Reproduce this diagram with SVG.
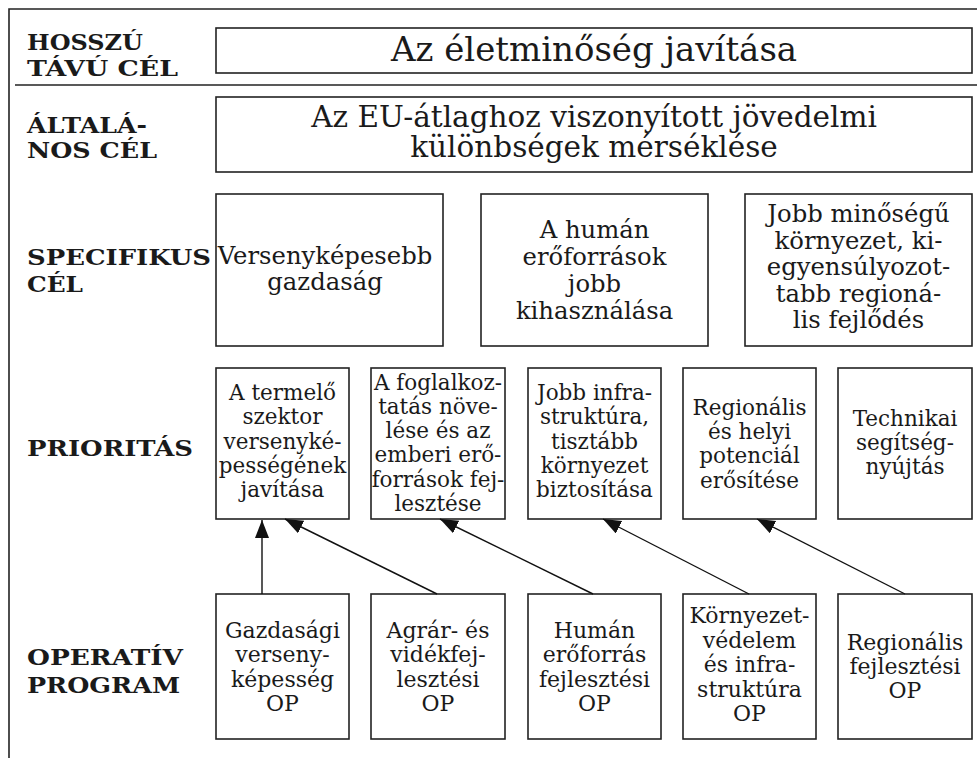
<svg xmlns="http://www.w3.org/2000/svg" width="977" height="758" viewBox="0 0 977 758">
<style>
.box{fill:#fff;stroke:#222;stroke-width:1.6}
.t{font-family:"DejaVu Serif","Liberation Serif",serif;fill:#1a1a1a;text-anchor:middle}
.big{font-size:34px}
.gen{font-size:29.5px}
.spec{font-size:24.3px}
.pri{font-size:21.5px}
.op{font-size:22px}
.lab{font-family:"DejaVu Serif","Liberation Serif",serif;font-weight:bold;font-size:22px;fill:#1a1a1a}
.frame{stroke:#222;stroke-width:1.6;fill:none}
.con{stroke:#111;stroke-width:1.4;fill:none}
</style>
<defs>
<marker id="ah" markerUnits="userSpaceOnUse" markerWidth="20" markerHeight="16" refX="18" refY="7" orient="auto">
<path d="M0,0 L18,7 L0,14 z" fill="#111"/>
</marker>
</defs>
<rect width="977" height="758" fill="#fff"/>
<g id="frame">
<path class="frame" d="M9,758 V9 H977"/>
<path class="frame" d="M15,85 H977"/>
</g>
<g id="labels">
<text class="lab" x="27" y="50" textLength="116" lengthAdjust="spacingAndGlyphs">HOSSZÚ</text>
<text class="lab" x="27" y="76" textLength="151" lengthAdjust="spacingAndGlyphs">TÁVÚ CÉL</text>
<text class="lab" x="27" y="133" textLength="120" lengthAdjust="spacingAndGlyphs">ÁLTALÁ-</text>
<text class="lab" x="27" y="158" textLength="130" lengthAdjust="spacingAndGlyphs">NOS CÉL</text>
<text class="lab" x="27" y="265" textLength="184" lengthAdjust="spacingAndGlyphs">SPECIFIKUS</text>
<text class="lab" x="27" y="292" textLength="56" lengthAdjust="spacingAndGlyphs">CÉL</text>
<text class="lab" x="27" y="456" textLength="166" lengthAdjust="spacingAndGlyphs">PRIORITÁS</text>
<text class="lab" x="27" y="665" textLength="156" lengthAdjust="spacingAndGlyphs">OPERATÍV</text>
<text class="lab" x="27" y="693" textLength="153" lengthAdjust="spacingAndGlyphs">PROGRAM</text>
</g>
<g id="cel-hosszu">
<rect class="box" x="216" y="28" width="756" height="45"/>
<text class="t big" x="594" y="61">Az életminőség javítása</text>
</g>
<g id="cel-altalanos">
<rect class="box" x="216" y="97" width="756" height="75"/>
<text class="t gen" x="594" y="127">Az EU-átlaghoz viszonyított jövedelmi</text>
<text class="t gen" x="594" y="157">különbségek mérséklése</text>
</g>
<g id="spec1">
<rect class="box" x="216" y="194" width="227" height="152"/>
<text class="t spec" x="325" y="264">Versenyképesebb</text>
<text class="t spec" x="325" y="290">gazdaság</text>
</g>
<g id="spec2">
<rect class="box" x="481" y="194" width="227" height="152"/>
<text class="t spec" x="594.5" y="238">A humán</text>
<text class="t spec" x="594.5" y="265">erőforrások</text>
<text class="t spec" x="594.5" y="292">jobb</text>
<text class="t spec" x="594.5" y="319">kihasználása</text>
</g>
<g id="spec3">
<rect class="box" x="745" y="194" width="227" height="152"/>
<text class="t spec" x="858.5" y="222">Jobb minőségű</text>
<text class="t spec" x="858.5" y="248.5">környezet, ki-</text>
<text class="t spec" x="858.5" y="275">egyensúlyozot-</text>
<text class="t spec" x="858.5" y="301.5">tabb regioná-</text>
<text class="t spec" x="858.5" y="328">lis fejlődés</text>
</g>
<g id="pri1">
<rect class="box" x="216" y="368" width="133" height="151"/>
<text class="t pri" x="282.5" y="400">A termelő</text>
<text class="t pri" x="282.5" y="424">szektor</text>
<text class="t pri" x="282.5" y="449">versenyké-</text>
<text class="t pri" x="282.5" y="473">pességének</text>
<text class="t pri" x="282.5" y="497">javítása</text>
</g>
<g id="pri2">
<rect class="box" x="371" y="368" width="134" height="151"/>
<text class="t pri" x="438" y="390">A foglalkoz-</text>
<text class="t pri" x="438" y="414">tatás növe-</text>
<text class="t pri" x="438" y="438">lése és az</text>
<text class="t pri" x="438" y="462">emberi erő-</text>
<text class="t pri" x="438" y="487">források fej-</text>
<text class="t pri" x="438" y="511">lesztése</text>
</g>
<g id="pri3">
<rect class="box" x="528" y="368" width="133" height="151"/>
<text class="t pri" x="594.5" y="400">Jobb infra-</text>
<text class="t pri" x="594.5" y="424">struktúra,</text>
<text class="t pri" x="594.5" y="449">tisztább</text>
<text class="t pri" x="594.5" y="473">környezet</text>
<text class="t pri" x="594.5" y="497">biztosítása</text>
</g>
<g id="pri4">
<rect class="box" x="683" y="368" width="133" height="151"/>
<text class="t pri" x="749.5" y="415">Regionális</text>
<text class="t pri" x="749.5" y="439">és helyi</text>
<text class="t pri" x="749.5" y="463">potenciál</text>
<text class="t pri" x="749.5" y="488">erősítése</text>
</g>
<g id="pri5">
<rect class="box" x="838" y="368" width="134" height="151"/>
<text class="t pri" x="905" y="426">Technikai</text>
<text class="t pri" x="905" y="450">segítség-</text>
<text class="t pri" x="905" y="474">nyújtás</text>
</g>
<g id="op1">
<rect class="box" x="216" y="594" width="133" height="145"/>
<text class="t op" x="282.5" y="638">Gazdasági</text>
<text class="t op" x="282.5" y="662">verseny-</text>
<text class="t op" x="282.5" y="687">képesség</text>
<text class="t op" x="282.5" y="711">OP</text>
</g>
<g id="op2">
<rect class="box" x="371" y="594" width="134" height="145"/>
<text class="t op" x="438" y="638">Agrár- és</text>
<text class="t op" x="438" y="662">vidékfej-</text>
<text class="t op" x="438" y="687">lesztési</text>
<text class="t op" x="438" y="711">OP</text>
</g>
<g id="op3">
<rect class="box" x="528" y="594" width="133" height="145"/>
<text class="t op" x="594.5" y="638">Humán</text>
<text class="t op" x="594.5" y="662">erőforrás</text>
<text class="t op" x="594.5" y="687">fejlesztési</text>
<text class="t op" x="594.5" y="711">OP</text>
</g>
<g id="op4">
<rect class="box" x="683" y="594" width="133" height="145"/>
<text class="t op" x="749.5" y="623">Környezet-</text>
<text class="t op" x="749.5" y="647.5">védelem</text>
<text class="t op" x="749.5" y="672">és infra-</text>
<text class="t op" x="749.5" y="696.5">struktúra</text>
<text class="t op" x="749.5" y="721">OP</text>
</g>
<g id="op5">
<rect class="box" x="838" y="594" width="134" height="145"/>
<text class="t op" x="905" y="650">Regionális</text>
<text class="t op" x="905" y="674">fejlesztési</text>
<text class="t op" x="905" y="698">OP</text>
</g>
<g id="connectors">
<line class="con" x1="262" y1="594" x2="262" y2="520" stroke-width="2.2" marker-end="url(#ah)"/>
<line class="con" x1="437" y1="594" x2="285" y2="519" marker-end="url(#ah)"/>
<line class="con" x1="593" y1="594" x2="440" y2="519" marker-end="url(#ah)"/>
<line class="con" x1="749" y1="594" x2="603" y2="519" marker-end="url(#ah)"/>
<line class="con" x1="905" y1="594" x2="757" y2="519" marker-end="url(#ah)"/>
</g>
</svg>
